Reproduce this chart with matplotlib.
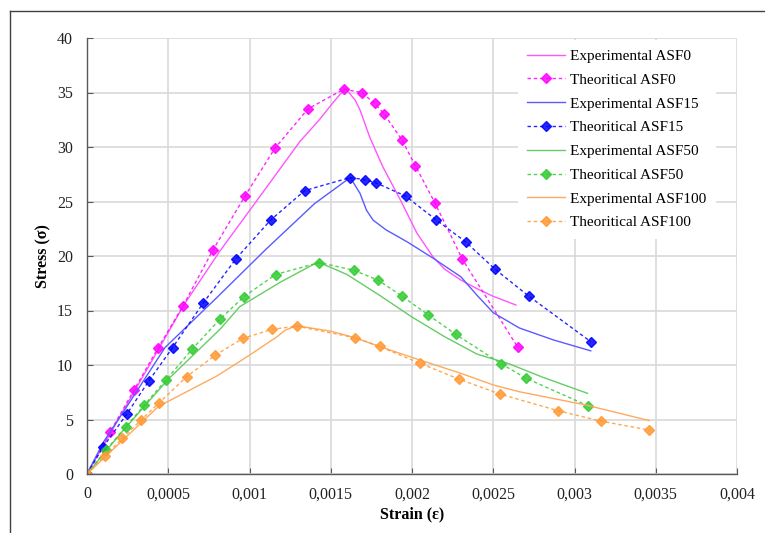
import matplotlib.pyplot as plt
import numpy as np
from matplotlib.lines import Line2D
from matplotlib.ticker import FuncFormatter, MultipleLocator

plt.rcParams["font.family"] = ["Liberation Serif", "DejaVu Serif"]

# Experimental curves (solid lines)
exp0_x = [0, 0.0003, 0.0006, 0.00082, 0.0011, 0.00131, 0.00143, 0.00151, 0.00159, 0.00165,
          0.00168, 0.00174, 0.00182, 0.00193, 0.00203, 0.00213, 0.0022, 0.0023, 0.0024, 0.0025, 0.00264]
exp0_y = [0, 7.8, 15.6, 20.5, 26.2, 30.5, 32.5, 34.0, 35.4, 34.3,
          33.4, 30.9, 28.2, 25.1, 22.1, 19.9, 18.8, 17.8, 17.0, 16.3, 15.5]

exp15_x = [0, 0.0001, 0.00025, 0.00048, 0.0008, 0.0011, 0.0014, 0.00162, 0.00168, 0.00172,
           0.00176, 0.00184, 0.00197, 0.00213, 0.0023, 0.0024, 0.0025, 0.00266, 0.00287, 0.0031]
exp15_y = [0, 2.9, 6.3, 11.6, 16.2, 20.6, 24.8, 27.2, 25.75, 24.2,
           23.3, 22.4, 21.3, 19.8, 18.1, 16.4, 14.8, 13.4, 12.3, 11.3]

exp50_x = [0, 0.0002, 0.0005, 0.00082, 0.00094, 0.00119, 0.00139, 0.00143, 0.0016, 0.0018,
           0.002, 0.0022, 0.0024, 0.0026, 0.0028, 0.00308]
exp50_y = [0, 3.6, 8.7, 13.3, 15.35, 17.6, 19.2, 19.4, 18.3, 16.4,
           14.4, 12.6, 11.0, 10.1, 8.9, 7.4]

exp100_x = [0, 0.00044, 0.0008, 0.001, 0.00117, 0.00122, 0.00129, 0.0015, 0.00165, 0.0018,
            0.00205, 0.0023, 0.0025, 0.00266, 0.00307, 0.00346]
exp100_y = [0, 6.2, 9.0, 10.9, 12.6, 13.2, 13.6, 13.1, 12.5, 11.7,
            10.45, 9.24, 8.17, 7.55, 6.33, 4.9]

# Theoretical curves (dashed with diamond markers)
th0_x = [0, 0.000142, 0.000289, 0.000437, 0.00059, 0.000775, 0.000972, 0.001157, 0.00136,
         0.00158, 0.00169, 0.00177, 0.00183, 0.00194, 0.00202, 0.00214, 0.00231, 0.00265]
th0_y = [0, 3.85, 7.7, 11.56, 15.4, 20.55, 25.5, 29.9, 33.5,
         35.3, 35.0, 34.0, 33.0, 30.6, 28.3, 24.9, 19.7, 11.65]

th15_x = [0, 0.0001, 0.000244, 0.00038, 0.000527, 0.000716, 0.000917, 0.00113, 0.00134,
          0.00162, 0.00171, 0.00178, 0.00196, 0.00215, 0.00233, 0.00251, 0.00272, 0.0031]
th15_y = [0, 2.5, 5.48, 8.53, 11.6, 15.7, 19.75, 23.3, 26.0,
          27.2, 27.0, 26.7, 25.5, 23.3, 21.3, 18.8, 16.3, 12.14]

th50_x = [0, 0.000117, 0.00024, 0.000353, 0.000486, 0.000648, 0.000818, 0.000966, 0.00116,
          0.00143, 0.00164, 0.00179, 0.00194, 0.0021, 0.00227, 0.00255, 0.0027, 0.00308]
th50_y = [0, 2.2, 4.34, 6.33, 8.62, 11.47, 14.2, 16.27, 18.3,
          19.4, 18.7, 17.8, 16.3, 14.6, 12.8, 10.1, 8.8, 6.27]

th100_x = [0, 0.00011, 0.000218, 0.00033, 0.000445, 0.000613, 0.00079, 0.00096, 0.00114,
           0.00129, 0.00165, 0.0018, 0.00205, 0.00229, 0.00254, 0.0029, 0.00316, 0.00346]
th100_y = [0, 1.68, 3.27, 4.92, 6.54, 8.93, 10.9, 12.45, 13.27,
           13.57, 12.5, 11.7, 10.15, 8.7, 7.34, 5.8, 4.86, 4.03]

names = ["ASF0", "ASF15", "ASF50", "ASF100"]
exp_data = [(exp0_x, exp0_y), (exp15_x, exp15_y), (exp50_x, exp50_y), (exp100_x, exp100_y)]
th_data = [(th0_x, th0_y), (th15_x, th15_y), (th50_x, th50_y), (th100_x, th100_y)]
exp_colors = ["#ff55ff", "#5a5aff", "#66cc66", "#ffaa5f"]
th_colors = ["#ff00ff", "#0000ff", "#33cc33", "#ff9933"]

fig = plt.figure(figsize=(7.65, 5.33), dpi=100)
ax = fig.add_axes([87 / 765, 59 / 533, 650 / 765, 436 / 533])

for name, (ex, ey), (tx, ty), ce, ct in zip(names, exp_data, th_data, exp_colors, th_colors):
    ax.plot(ex, ey, "-", color=ce, lw=1.0, label="Experimental " + name)
    ax.plot(tx, ty, linestyle=(0, (2.5, 2)), color=ct, lw=1.0, alpha=0.85,
            marker="D", markersize=5.5, markerfacecolor=ct, markeredgecolor=ct,
            label="Theoritical " + name)

ax.set_xlim(0, 0.004)
ax.set_ylim(0, 40)
ax.xaxis.set_major_locator(MultipleLocator(0.0005))
ax.yaxis.set_major_locator(MultipleLocator(5))
ax.xaxis.set_major_formatter(FuncFormatter(lambda v, p: ("%g" % round(v, 6)).replace(".", ",")))
ax.grid(True, color="#d9d9d9", lw=1.2)
ax.set_axisbelow(True)
for s in ["top", "right"]:
    ax.spines[s].set_visible(False)
for s in ["left", "bottom"]:
    ax.spines[s].set_color("#595959")
    ax.spines[s].set_linewidth(1.0)
ax.tick_params(direction="in", length=4, color="#595959", labelsize=11.5, labelcolor="#222222")
ax.tick_params(axis="y", pad=10)
ax.tick_params(axis="x", pad=9)

ax.set_xlabel("Strain (ε)", fontsize=11.5, fontweight="bold")
ax.set_ylabel("Stress (σ)", fontsize=11.5, fontweight="bold")
ax.xaxis.set_label_coords(0.5, -0.075)
ax.yaxis.set_label_coords(-0.055, 0.5)

leg = ax.legend(loc="upper left", bbox_to_anchor=(0.663, 0.995), borderaxespad=0.0,
                fontsize=11, frameon=True, fancybox=False, edgecolor="none",
                framealpha=1.0, handlelength=2.5, handletextpad=0.33, labelspacing=0.66,
                borderpad=0.6)

# chart area border (left and top edges visible)
fig.add_artist(Line2D([10 / 765, 10 / 765], [0, 1 - 11 / 533], color="#404040", lw=1.0))
fig.add_artist(Line2D([10 / 765, 1], [1 - 11 / 533, 1 - 11 / 533], color="#404040", lw=1.0))

fig.savefig("out.png", dpi=100)
